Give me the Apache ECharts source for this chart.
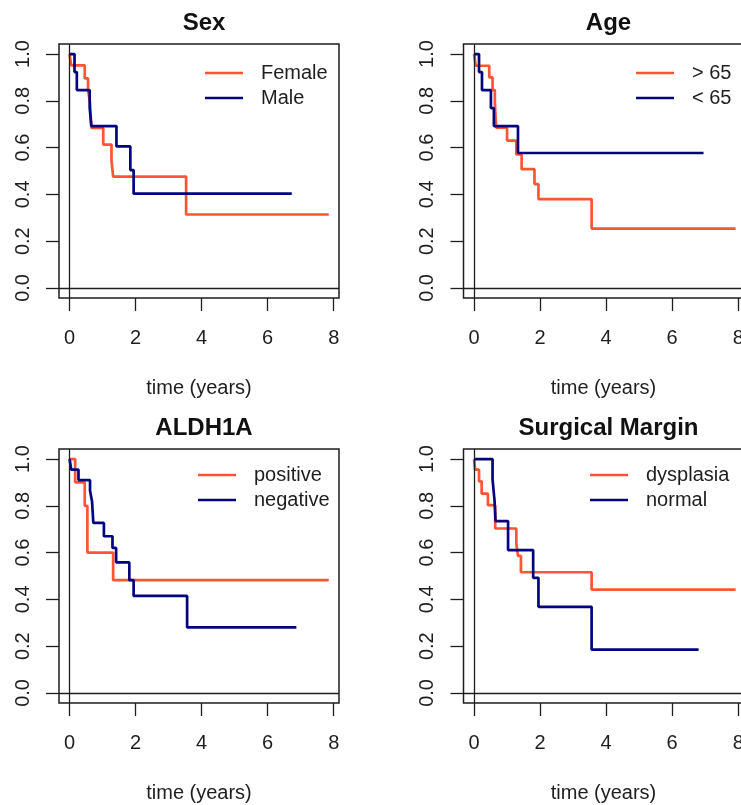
<!DOCTYPE html>
<html>
<head>
<meta charset="utf-8">
<script src="https://cdn.jsdelivr.net/npm/echarts@6/dist/echarts.min.js"></script>
<style>
html,body{margin:0;padding:0;background:#fff;overflow:hidden;width:741px;height:805px;}
#c{width:760px;height:805px;}
</style>
</head>
<body>
<div id="c"></div>
<script>
// ---------- data ----------
const panelTitles = ['Sex', 'Age', 'ALDH1A', 'Surgical Margin'];
const xTicks = [0, 2, 4, 6, 8];
const yTicks = [0, 0.2, 0.4, 0.6, 0.8, 1.0];
const xTitle = 'time (years)';

const sexNames = ['Female', 'Male'];
const sexFemaleT = [0, 0.05, 0.46, 0.56, 0.62, 0.66, 1.02, 1.27, 1.32, 3.53, 7.85];
const sexFemaleS = [1.0, 0.952, 0.896, 0.845, 0.792, 0.684, 0.613, 0.543, 0.476, 0.314, 0.314];
const sexMaleT = [0, 0.15, 0.22, 0.61, 0.66, 1.42, 1.84, 1.94, 6.73];
const sexMaleS = [1.0, 0.923, 0.846, 0.769, 0.692, 0.605, 0.504, 0.403, 0.403];

const ageNames = ['> 65', '< 65'];
const ageOldT = [0, 0.05, 0.46, 0.56, 0.63, 0.67, 1.0, 1.28, 1.44, 1.83, 1.95, 3.56, 7.92];
const ageOldS = [1.0, 0.95, 0.9, 0.846, 0.792, 0.685, 0.63, 0.571, 0.508, 0.444, 0.38, 0.254, 0.254];
const ageYoungT = [0, 0.15, 0.24, 0.51, 0.6, 1.33, 6.95];
const ageYoungS = [1.0, 0.923, 0.846, 0.769, 0.692, 0.577, 0.577];

const aldNames = ['positive', 'negative'];
const aldPosT = [0, 0.17, 0.46, 0.54, 1.32, 7.85];
const aldPosS = [1.0, 0.9, 0.8, 0.6, 0.482, 0.482];
const aldNegT = [0, 0.05, 0.27, 0.62, 0.68, 0.72, 1.04, 1.3, 1.41, 1.81, 1.94, 3.56, 6.87];
const aldNegS = [1.0, 0.955, 0.91, 0.864, 0.82, 0.727, 0.67, 0.62, 0.558, 0.482, 0.415, 0.28, 0.28];

const smNames = ['dysplasia', 'normal'];
const smDysT = [0, 0.03, 0.15, 0.23, 0.42, 0.64, 1.28, 1.33, 1.42, 3.56, 7.92];
const smDysS = [1.0, 0.955, 0.905, 0.852, 0.803, 0.703, 0.639, 0.586, 0.516, 0.442, 0.442];
const smNormT = [0, 0.56, 0.62, 0.65, 1.03, 1.79, 1.95, 3.56, 6.8];
const smNormS = [1.0, 0.913, 0.822, 0.735, 0.611, 0.492, 0.368, 0.185, 0.185];

// ---------- styling ----------
const RED = '#ff5535';
const BLUE = '#04047f';
const INK = '#1e1e1e';
const FONT = '"Liberation Sans", Arial, sans-serif';

const zip = (t, s) => t.map((v, i) => [v, s[i]]);

const panels = [
  { title: panelTitles[0], names: sexNames, data: [zip(sexFemaleT, sexFemaleS), zip(sexMaleT, sexMaleS)], left: 59, top: 44, legLeft: 205, legTop: 63 },
  { title: panelTitles[1], names: ageNames, data: [zip(ageOldT, ageOldS), zip(ageYoungT, ageYoungS)], left: 463.5, top: 44, legLeft: 636, legTop: 63 },
  { title: panelTitles[2], names: aldNames, data: [zip(aldPosT, aldPosS), zip(aldNegT, aldNegS)], left: 59, top: 449, legLeft: 198, legTop: 465 },
  { title: panelTitles[3], names: smNames, data: [zip(smDysT, smDysS), zip(smNormT, smNormS)], left: 463.5, top: 449, legLeft: 590, legTop: 465 }
];
const W = 280, H = 254;

const option = {
  animation: false,
  backgroundColor: '#fff',
  textStyle: { fontFamily: FONT },
  title: [], grid: [], xAxis: [], yAxis: [], legend: [], series: []
};

panels.forEach((p, i) => {
  option.title.push({
    text: p.title, left: p.left + W / 2, top: p.top - 38, textAlign: 'center',
    textStyle: { fontFamily: FONT, fontSize: 24, fontWeight: 'bold', color: '#111' }
  });
  option.grid.push({
    left: p.left, top: p.top, width: W, height: H,
    show: true, borderColor: INK, borderWidth: 1.5, backgroundColor: 'transparent'
  });
  option.xAxis.push({
    type: 'value', gridIndex: i, min: -0.32, max: 8.16, position: 'bottom',
    name: xTitle, nameLocation: 'middle', nameGap: 80,
    nameTextStyle: { fontFamily: FONT, fontSize: 20, color: INK },
    axisLine: { show: false, onZero: false },
    splitLine: { show: false },
    axisTick: { show: true, length: 13, customValues: xTicks, lineStyle: { color: INK, width: 1.3 } },
    axisLabel: { show: true, customValues: xTicks, margin: 30, fontFamily: FONT, fontSize: 20, color: INK, formatter: v => String(v) }
  });
  option.yAxis.push({
    type: 'value', gridIndex: i, min: -0.043, max: 1.043, position: 'left',
    axisLine: { show: false, onZero: false },
    splitLine: { show: false },
    axisTick: { show: true, length: 13, customValues: yTicks, lineStyle: { color: INK, width: 1.3 } },
    axisLabel: { show: true, customValues: yTicks, rotate: 90, margin: 26, fontFamily: FONT, fontSize: 20, color: INK, formatter: v => v.toFixed(1) }
  });
  option.legend.push({
    orient: 'vertical', left: p.legLeft, top: p.legTop, padding: 0,
    data: p.names, icon: 'rect', itemWidth: 38, itemHeight: 2.6, itemGap: 5,
    selectedMode: false,
    textStyle: { fontFamily: FONT, fontSize: 20, color: INK, lineHeight: 20, padding: [0, 0, 0, 13] }
  });
  p.names.forEach((nm, k) => {
    const s = {
      type: 'line', name: nm, xAxisIndex: i, yAxisIndex: i,
      data: p.data[k], step: 'end', symbol: 'none', showSymbol: false,
      color: k === 0 ? RED : BLUE,
      lineStyle: { color: k === 0 ? RED : BLUE, width: 2.7 },
      z: k === 0 ? 3 : 4
    };
    if (k === 0) {
      s.markLine = {
        silent: true, symbol: ['none', 'none'], label: { show: false },
        lineStyle: { color: INK, width: 1.3, type: 'solid' },
        data: [{ yAxis: 0 }, { xAxis: 0 }]
      };
    }
    option.series.push(s);
  });
});

const chart = echarts.init(document.getElementById('c'), null, { renderer: 'canvas' });
chart.setOption(option);
</script>
</body>
</html>
